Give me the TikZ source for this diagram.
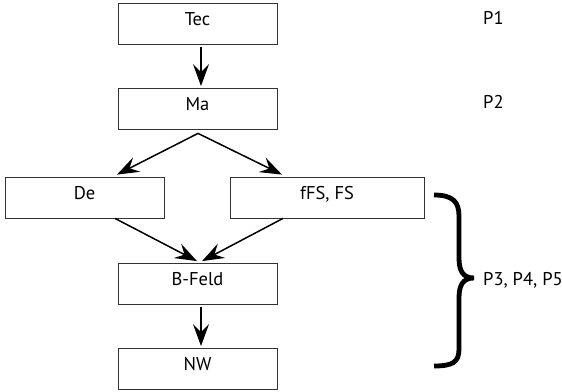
\documentclass[tikz,border=0pt]{standalone}
\usepackage{fontspec}
\setmainfont{PT Sans}
\usetikzlibrary{arrows.meta,calc}
\begin{document}
\begin{tikzpicture}[x=1pt,y=-1pt,
  box/.style={draw=black!80,line width=0.8pt,minimum width=159pt,minimum height=41pt,inner sep=0pt,
    font=\fontsize{18.5}{21}\selectfont,text height=12.5pt,text depth=8.5pt},
  lbl/.style={anchor=west,inner sep=0pt,font=\fontsize{18.5}{21}\selectfont},
  arr/.style={line width=1.5pt,-{Stealth[length=22pt,width=16pt,inset=8pt]}}]
\useasboundingbox[fill=white] (0,0) rectangle (562,391);
\node[box] (tec) at (197.5,23.5) {Tec};
\node[box] (ma) at (197.5,108.5) {Ma};
\node[box] (de) at (84.5,197.5) {De};
\node[box,minimum width=194pt] (ffs) at (327,197.5) {fFS, FS};
\node[box] (bf) at (197.5,283.5) {B-Feld};
\node[box] (nw) at (197.5,368.5) {NW};
\node[lbl] (p1) at (483,18) {P1};
\node[lbl] (p2) at (483,101.5) {P2};
\node[lbl] (p3) at (483,280.5) {P3, P4, P5};
\draw[arr] ($(tec.south)+(3.5,3)$) -- ($(ma.north)+(3.5,-1.5)$);
\draw[arr] ($(ma.south)+(0.5,4)$) -- ($(de.north)+(32.5,-2)$);
\draw[arr] ($(ma.south)+(0.5,4)$) -- ($(ffs.north)+(-45,-2)$);
\draw[arr] ($(de.south)+(30.5,0)$) -- ($(bf.north)+(-0.5,-1.5)$);
\draw[arr] ($(ffs.south)+(-44,0)$) -- ($(bf.north)+(4.5,-1.5)$);
\draw[arr] ($(bf.south)+(3.5,3)$) -- ($(nw.north)+(3.5,-1.5)$);
\draw[line width=4.8pt,line cap=butt]
  (434,195) .. controls (453,195) and (459,202) .. (459,216) -- (459,258)
  .. controls (459,271) and (463,278) .. (474,278)
  .. controls (463,278) and (459,285) .. (459,298) -- (459,349)
  .. controls (459,362) and (453,366) .. (434,366);
\end{tikzpicture}
\end{document}
